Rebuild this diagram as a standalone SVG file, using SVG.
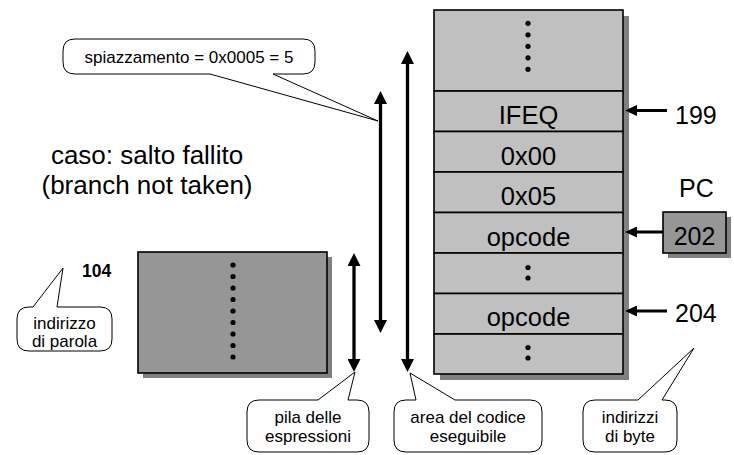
<svg xmlns="http://www.w3.org/2000/svg" width="734" height="455" viewBox="0 0 734 455">
  <style>
    text { font-family: "Liberation Sans", Arial, sans-serif; fill: #000; }
    .cell { fill: #c0c0c0; stroke: #000; stroke-width: 1.6; }
    .dark { fill: #969696; stroke: #000; stroke-width: 1.6; }
    .shadow { fill: #808080; }
    .dot { fill: #000; }
    .big { font-size: 25.5px; text-anchor: middle; }
    .title { font-size: 26px; text-anchor: middle; }
    .addr { font-size: 25px; }
    .note { font-size: 17px; text-anchor: middle; }
    .callout { fill: #fff; stroke: #000; stroke-width: 1; }
    .dbl { stroke: #000; stroke-width: 3.3; fill: none; marker-start: url(#head); marker-end: url(#head); }
    .ptr { stroke: #000; stroke-width: 3; fill: none; marker-end: url(#headSmall); }
  </style>
  <defs>
    <marker id="head" markerUnits="userSpaceOnUse" markerWidth="13" markerHeight="13" refX="0" refY="6.5" orient="auto-start-reverse">
      <path d="M0,0 L13,6.5 L0,13 Z" fill="#000"/>
    </marker>
    <marker id="headSmall" markerUnits="userSpaceOnUse" markerWidth="12" markerHeight="11" refX="0" refY="5.5" orient="auto">
      <path d="M0,0 L12,5.5 L0,11 Z" fill="#000"/>
    </marker>
  </defs>

  <rect width="734" height="455" fill="#fff"/>

  <!-- heading -->
  <g id="title">
    <text class="title" x="147" y="164">caso: salto fallito</text>
    <text class="title" x="147" y="194">(branch not taken)</text>
  </g>

  <!-- code area column -->
  <g id="code-area">
    <rect class="shadow" x="440" y="16" width="189" height="364"/>
    <rect class="cell" x="434" y="10" width="189" height="81"/>
    <g class="dot">
      <circle cx="528" cy="23.3" r="2.6"/>
      <circle cx="528" cy="34.8" r="2.6"/>
      <circle cx="528" cy="46.3" r="2.6"/>
      <circle cx="528" cy="57.8" r="2.6"/>
      <circle cx="528" cy="69.3" r="2.6"/>
    </g>
  </g>
  <g id="cell-ifeq">
    <rect class="cell" x="434" y="91" width="189" height="40.5"/>
    <text class="big" x="528.5" y="124">IFEQ</text>
  </g>
  <g id="cell-0x00">
    <rect class="cell" x="434" y="131.5" width="189" height="40.5"/>
    <text class="big" x="528.5" y="164.5">0x00</text>
  </g>
  <g id="cell-0x05">
    <rect class="cell" x="434" y="172" width="189" height="40.5"/>
    <text class="big" x="528.5" y="205">0x05</text>
  </g>
  <g id="cell-opcode-202">
    <rect class="cell" x="434" y="212.5" width="189" height="40.5"/>
    <text class="big" x="528.5" y="245.5">opcode</text>
  </g>
  <g id="cell-gap">
    <rect class="cell" x="434" y="253" width="189" height="40.5"/>
    <circle class="dot" cx="528" cy="267.5" r="2.6"/>
    <circle class="dot" cx="528" cy="278" r="2.6"/>
  </g>
  <g id="cell-opcode-204">
    <rect class="cell" x="434" y="293.5" width="189" height="40.5"/>
    <text class="big" x="528.5" y="326">opcode</text>
  </g>
  <g id="cell-tail">
    <rect class="cell" x="434" y="334" width="189" height="40"/>
    <circle class="dot" cx="528" cy="347.5" r="2.6"/>
    <circle class="dot" cx="528" cy="358" r="2.6"/>
  </g>

  <!-- addresses and program counter -->
  <g id="addr-199">
    <text class="addr" x="675" y="124">199</text>
  </g>
  <g id="pc">
    <text class="addr" x="679" y="197">PC</text>
    <rect class="shadow" x="668" y="217" width="63" height="41"/>
    <rect class="dark" x="663" y="212" width="63" height="41"/>
    <text class="addr" x="694.5" y="245" text-anchor="middle">202</text>
  </g>
  <g id="addr-204">
    <text class="addr" x="675" y="322">204</text>
  </g>

  <!-- expression stack -->
  <g id="stack">
    <rect class="shadow" x="143" y="257" width="189" height="121"/>
    <rect class="dark" x="138" y="252" width="189" height="121"/>
    <g class="dot">
      <circle cx="233" cy="265" r="2.6"/>
      <circle cx="233" cy="276.5" r="2.6"/>
      <circle cx="233" cy="288" r="2.6"/>
      <circle cx="233" cy="299.5" r="2.6"/>
      <circle cx="233" cy="311" r="2.6"/>
      <circle cx="233" cy="322.5" r="2.6"/>
      <circle cx="233" cy="334" r="2.6"/>
      <circle cx="233" cy="345.5" r="2.6"/>
      <circle cx="233" cy="357" r="2.6"/>
    </g>
  </g>
  <g id="addr-104">
    <text x="82" y="277" style="font-size:17.5px;font-weight:bold">104</text>
  </g>

  <!-- callouts -->
  <g id="callout-offset">
    <path class="callout" d="M75,39 L303,39 Q315,39 315,51 L315,62 Q315,74 303,74 L273,74 L378,121 L210,74 L75,74 Q63,74 63,62 L63,51 Q63,39 75,39 Z"/>
    <text class="note" x="189" y="63">spiazzamento = 0x0005 = 5</text>
  </g>
  <g id="callout-word">
    <path class="callout" d="M29,307 L33,307 L63,268 L57,307 L100,307 Q112,307 112,319 L112,339 Q112,351 100,351 L29,351 Q17,351 17,339 L17,319 Q17,307 29,307 Z"/>
    <text class="note" x="64.5" y="329">indirizzo</text>
    <text class="note" x="64.5" y="347">di parola</text>
  </g>
  <g id="callout-stack">
    <path class="callout" d="M259,400 L318,400 L355,372 L348,400 L357,400 Q369,400 369,412 L369,440 Q369,452 357,452 L259,452 Q247,452 247,440 L247,412 Q247,400 259,400 Z"/>
    <text class="note" x="308" y="423">pila delle</text>
    <text class="note" x="308" y="442">espressioni</text>
  </g>
  <g id="callout-code">
    <path class="callout" d="M406,400 L416,400 L410,373 L455,400 L530,400 Q542,400 542,412 L542,440 Q542,452 530,452 L406,452 Q394,452 394,440 L394,412 Q394,400 406,400 Z"/>
    <text class="note" x="468" y="423">area del codice</text>
    <text class="note" x="468" y="442">eseguibile</text>
  </g>
  <g id="callout-byte">
    <path class="callout" d="M595,400 L638,400 L694,348 L662,400 L665,400 Q677,400 677,412 L677,440 Q677,452 665,452 L595,452 Q583,452 583,440 L583,412 Q583,400 595,400 Z"/>
    <text class="note" x="630" y="423">indirizzi</text>
    <text class="note" x="630" y="442">di byte</text>
  </g>

  <!-- connectors -->
  <g id="connectors">
    <line class="dbl" x1="407.5" y1="64" x2="407.5" y2="359"/>
    <line class="dbl" x1="380.5" y1="104" x2="380.5" y2="320"/>
    <line class="dbl" x1="354" y1="266" x2="354" y2="359"/>
    <line class="ptr" x1="667" y1="110.5" x2="637" y2="110.5"/>
    <line class="ptr" x1="663" y1="232" x2="637" y2="232"/>
    <line class="ptr" x1="667" y1="311" x2="637" y2="311"/>
  </g>
</svg>
